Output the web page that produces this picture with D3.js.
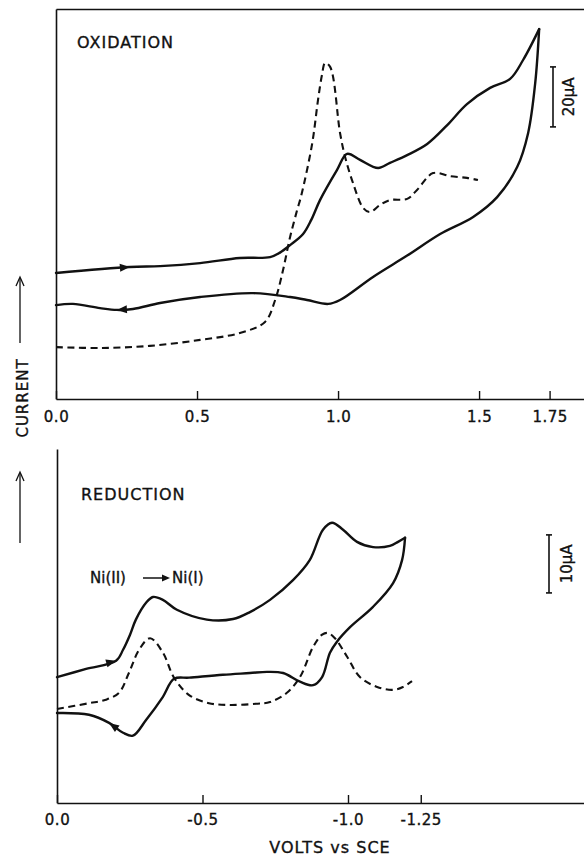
<!DOCTYPE html>
<html><head><meta charset="utf-8">
<script src="https://cdn.jsdelivr.net/npm/d3@7"></script>
<style>
body{margin:0;background:#fff}
svg{display:block}
text{font-family:"DejaVu Sans",sans-serif;fill:#111;stroke:#111;stroke-width:0.35px}
</style>
</head><body>
<svg id="c" width="584" height="856"></svg>
<script>
// ---------- DATA ----------
// Oxidation panel (V vs SCE, current in µA, arbitrary offset)
const oxTicks = [0, 0.5, 1.0, 1.5, 1.75];
const oxTickLabels = ["0.0", "0.5", "1.0", "1.5", "1.75"];
const oxFwdV = [0,0.262,0.369,0.511,0.652,0.759,0.794,0.830,0.876,0.905,0.936,0.996,1.032,1.078,1.142,1.184,1.245,1.316,1.387,1.457,1.539,1.610,1.656,1.713];
const oxFwdI = [42.0,44.0,44.3,45.3,47.0,47.3,48.8,51.3,55.0,59.7,66.3,76.3,81.7,79.7,77.0,78.7,81.3,85.0,91.3,98.3,103.7,106.7,113.0,123.3];
const oxRevV = [1.713,1.699,1.674,1.635,1.564,1.479,1.362,1.245,1.124,1.007,0.965,0.890,0.830,0.699,0.511,0.369,0.273,0.216,0.156,0.060,0.0];
const oxRevI = [123.3,105.3,88.7,77.3,67.3,60.7,55.0,47.8,40.7,33.0,31.7,33.0,34.0,35.3,34.0,32.0,30.0,29.7,30.3,31.7,31.3];
const oxDashV = [0,0.156,0.333,0.511,0.652,0.741,0.777,0.805,0.830,0.855,0.870,0.908,0.929,0.943,0.954,0.972,1.007,1.025,1.053,1.089,1.113,1.149,1.184,1.245,1.280,1.337,1.397,1.457,1.496];
const oxDashI = [17.3,17.0,17.7,19.7,22.0,25.7,33.0,43.0,54.0,63.0,68.0,85.0,99.7,108.0,112.0,110.7,88.7,80.7,72.0,63.7,62.3,64.7,66.3,66.7,69.7,75.3,74.3,73.7,73.0];

// Reduction panel
const redTicks = [0, -0.5, -1.0, -1.25];
const redTickLabels = ["0.0", "-0.5", "-1.0", "-1.25"];
const redFwdV = [0,-0.100,-0.203,-0.227,-0.251,-0.271,-0.306,-0.330,-0.364,-0.412,-0.515,-0.605,-0.663,-0.732,-0.811,-0.869,-0.914,-0.945,-0.983,-1.031,-1.086,-1.144,-1.172,-1.196];
const redFwdI = [21.7,23.1,24.5,26.4,29.0,31.6,34.5,35.5,35.0,33.3,31.6,31.7,32.9,35.0,38.4,41.9,47.1,48.3,47.1,45.0,44.1,44.3,45.0,45.7];
const redRevV = [-1.196,-1.186,-1.155,-1.086,-1.007,-0.962,-0.938,-0.911,-0.880,-0.835,-0.777,-0.722,-0.663,-0.570,-0.454,-0.402,-0.364,-0.306,-0.261,-0.227,-0.179,-0.110,0];
const redRevI = [45.7,41.9,37.9,33.8,30.3,27.8,25.9,21.7,20.3,20.9,22.4,22.6,22.4,22.1,21.6,21.4,18.3,14.3,11.6,12.1,13.8,15.2,15.5];
const redDashV = [0,-0.110,-0.168,-0.213,-0.247,-0.282,-0.320,-0.364,-0.402,-0.454,-0.522,-0.591,-0.684,-0.732,-0.790,-0.835,-0.880,-0.911,-0.931,-0.955,-0.997,-1.041,-1.100,-1.155,-1.189,-1.220];
const redDashI = [16.2,17.2,17.8,19.0,22.4,26.4,28.4,25.9,21.6,18.6,17.2,16.9,17.1,17.4,19.0,21.7,26.9,29.0,29.3,28.4,25.2,21.7,20.0,19.5,20.0,21.0];

// direction arrows: index of point in series where the arrowhead sits
const oxArrowIdx = {fwd: 1, rev: 17};
const redArrowIdx = {fwd: 2, rev: 20};

// ---------- DRAW ----------
const svg = d3.select("#c");
const ink = "#111";

const xTop = d3.scaleLinear().domain([0, 1.872]).range([56, 584]);
const yTop = d3.scaleLinear().domain([0, 130]).range([399, 9]);
const xBot = d3.scaleLinear().domain([0, -1.811]).range([57, 584]);
const yBot = d3.scaleLinear().domain([0, 61]).range([803, 449]);

function zip(v, i){ return v.map((d,k)=>[d, i[k]]); }

function drawCurve(g, x, y, pts, dashed){
  const line = d3.line().x(d=>x(d[0])).y(d=>y(d[1])).curve(d3.curveCatmullRom.alpha(0.5));
  g.append("path").attr("d", line(pts)).attr("fill","none").attr("stroke",ink)
    .attr("stroke-width", dashed ? 2.1 : 2.4)
    .attr("stroke-linejoin","round").attr("stroke-linecap", dashed ? "butt" : "round")
    .attr("stroke-dasharray", dashed ? "7,4.5" : null);
}

function drawArrow(g, x, y, pts, k){
  const p = [x(pts[k][0]), y(pts[k][1])];
  const q = [x(pts[k-1][0]), y(pts[k-1][1])];
  const a = Math.atan2(p[1]-q[1], p[0]-q[0]);
  const L = 10, W = 4;
  const bx = p[0] - L*Math.cos(a), by = p[1] - L*Math.sin(a);
  const nx = -Math.sin(a)*W, ny = Math.cos(a)*W;
  g.append("path").attr("d", `M${p[0]},${p[1]}L${bx+nx},${by+ny}L${bx-nx},${by-ny}Z`).attr("fill", ink);
}

function styleAxis(sel){
  sel.select(".domain").attr("stroke", ink).attr("stroke-width", 1.6);
  sel.selectAll(".tick line").attr("stroke", ink).attr("stroke-width", 1.4);
  sel.selectAll(".tick text").attr("fill", ink).attr("stroke", ink).attr("stroke-width", 0.35)
    .style("font-family", '"DejaVu Sans",sans-serif')
    .style("font-size","15px").style("letter-spacing","0.5px");
}

// ----- Top panel -----
const gT = svg.append("g");
gT.append("g").attr("transform", `translate(0,${yTop(0)})`)
  .call(d3.axisBottom(xTop).tickValues(oxTicks).tickFormat((d,i)=>oxTickLabels[i]).tickSizeInner(-8).tickSizeOuter(0).tickPadding(12))
  .call(styleAxis);
gT.append("g").attr("transform", `translate(${xTop(0)},0)`)
  .call(d3.axisLeft(yTop).tickValues([]).tickSizeOuter(0)).call(styleAxis);
gT.append("g").attr("transform", `translate(0,${yTop(130)})`)
  .call(d3.axisTop(xTop).tickValues([]).tickSizeOuter(0)).call(styleAxis);

const oxFwd = zip(oxFwdV, oxFwdI), oxRev = zip(oxRevV, oxRevI), oxDash = zip(oxDashV, oxDashI);
drawCurve(gT, xTop, yTop, oxDash, true);
drawCurve(gT, xTop, yTop, oxFwd, false);
drawCurve(gT, xTop, yTop, oxRev, false);
drawArrow(gT, xTop, yTop, oxFwd, oxArrowIdx.fwd);
drawArrow(gT, xTop, yTop, oxRev, oxArrowIdx.rev);

gT.append("text").attr("x", 77).attr("y", 48).style("font-size","16px").style("letter-spacing","1px").text("OXIDATION");

function scaleBar(g, x, y0, y1, label, off){
  g.append("line").attr("x1",x).attr("x2",x).attr("y1",y0).attr("y2",y1).attr("stroke",ink).attr("stroke-width",1.6);
  [y0,y1].forEach(yy=>g.append("line").attr("x1",x-3).attr("x2",x+3).attr("y1",yy).attr("y2",yy).attr("stroke",ink).attr("stroke-width",1.6));
  g.append("text").attr("transform",`translate(${x+off},${(y0+y1)/2}) rotate(-90)`)
    .attr("text-anchor","middle").style("font-size","15px").text(label);
}
scaleBar(gT, 553, yTop(110.7), yTop(90.7), "20µA", 21);

// ----- Bottom panel -----
const gB = svg.append("g");
gB.append("g").attr("transform", `translate(0,${yBot(0)})`)
  .call(d3.axisBottom(xBot).tickValues(redTicks).tickFormat((d,i)=>redTickLabels[i]).tickSizeInner(-8).tickSizeOuter(0).tickPadding(11))
  .call(styleAxis);
gB.append("g").attr("transform", `translate(${xBot(0)},0)`)
  .call(d3.axisLeft(yBot).tickValues([]).tickSizeOuter(0)).call(styleAxis);

const redFwd = zip(redFwdV, redFwdI), redRev = zip(redRevV, redRevI), redDash = zip(redDashV, redDashI);
drawCurve(gB, xBot, yBot, redDash, true);
drawCurve(gB, xBot, yBot, redFwd, false);
drawCurve(gB, xBot, yBot, redRev, false);
drawArrow(gB, xBot, yBot, redFwd, redArrowIdx.fwd);
drawArrow(gB, xBot, yBot, redRev, redArrowIdx.rev);

gB.append("text").attr("x", 81).attr("y", 500).style("font-size","16px").style("letter-spacing","1px").text("REDUCTION");
gB.append("text").attr("x", 90).attr("y", 583).style("font-size","15px").text("Ni(II)");
gB.append("line").attr("x1",143).attr("x2",164).attr("y1",578).attr("y2",578).attr("stroke",ink).attr("stroke-width",1.5);
gB.append("path").attr("d","M170,578L162,574.5L162,581.5Z").attr("fill",ink);
gB.append("text").attr("x", 172).attr("y", 583).style("font-size","15px").text("Ni(I)");

scaleBar(gB, 549, yBot(46.2), yBot(36.2), "10µA", 23);

gB.append("text").attr("x", 330).attr("y", 853).attr("text-anchor","middle")
  .style("font-size","16px").style("letter-spacing","1px").text("VOLTS vs SCE");

// ----- CURRENT label with arrows -----
const gL = svg.append("g");
gL.append("text").attr("transform","translate(28,398) rotate(-90)").attr("text-anchor","middle")
  .style("font-size","15px").style("letter-spacing","1px").text("CURRENT");
function upArrow(x, top, bottom){
  gL.append("line").attr("x1",x).attr("x2",x).attr("y1",top+1).attr("y2",bottom).attr("stroke",ink).attr("stroke-width",1.3);
  gL.append("path").attr("d",`M${x-4},${top+9}L${x},${top}L${x+4},${top+9}`).attr("fill","none").attr("stroke",ink).attr("stroke-width",1.3);
}
upArrow(20, 277, 343);
upArrow(20, 472, 543);
</script>
</body></html>
